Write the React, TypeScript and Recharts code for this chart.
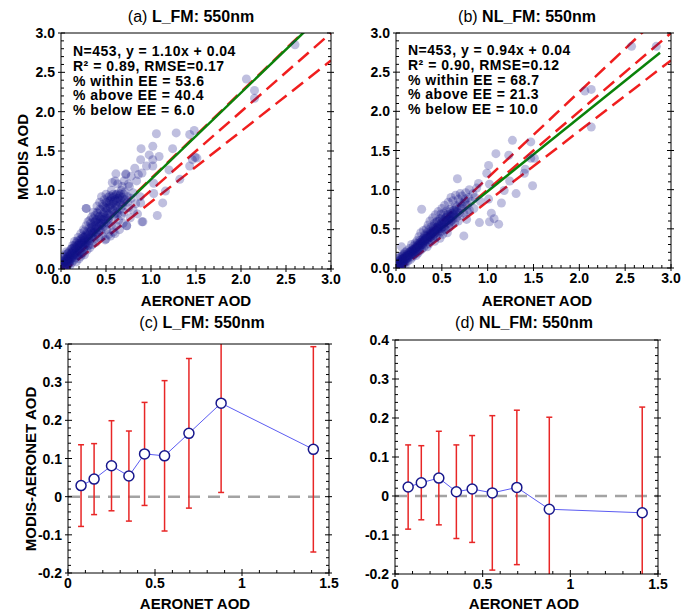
import React, { useId } from "react";
import { ComposedChart, Scatter, Line, XAxis, YAxis, ReferenceLine, ErrorBar } from "recharts";

const FONT = '"Liberation Sans", Arial, Helvetica, sans-serif';

// (a) L_FM collocations: [AERONET AOD, MODIS AOD]
const POINTS_L_FM: [number, number][] = [
  [0.02, 0.03], [0.03, 0.08], [0.04, 0.05], [0.05, 0.12], [0.05, 0.02], [0.06, 0.09], [0.07, 0.15], [0.07, 0.04],
  [0.08, 0.11], [0.08, 0.2], [0.09, 0.07], [0.09, 0.14], [0.1, 0.1], [0.1, 0.18], [0.03, 0.14], [0.04, 0.18],
  [0.06, 0.22], [0.02, 0.1], [0.1, 0.04], [0.11, 0.25], [0.01, 0.05], [0.02, 0.07], [0.03, 0.11], [0.04, 0.02],
  [0.04, 0.1], [0.05, 0.07], [0.05, 0.16], [0.06, 0.05], [0.06, 0.12], [0.07, 0.09], [0.07, 0.19], [0.08, 0.06],
  [0.08, 0.14], [0.09, 0.1], [0.09, 0.22], [0.1, 0.13], [0.05, 0.09], [0.07, 0.12], [0.09, 0.16],
  [0.11, 0.13], [0.12, 0.08], [0.12, 0.2], [0.13, 0.16], [0.13, 0.3], [0.14, 0.11], [0.14, 0.24], [0.15, 0.18],
  [0.15, 0.35], [0.16, 0.14], [0.16, 0.27], [0.17, 0.21], [0.17, 0.09], [0.18, 0.3], [0.18, 0.17], [0.19, 0.24],
  [0.19, 0.4], [0.2, 0.13], [0.2, 0.28], [0.2, 0.2], [0.11, 0.17], [0.12, 0.26], [0.12, 0.14], [0.13, 0.22],
  [0.14, 0.18], [0.15, 0.28], [0.16, 0.2], [0.17, 0.33], [0.18, 0.25], [0.19, 0.17], [0.2, 0.36],
  [0.13, 0.26], [0.15, 0.3], [0.18, 0.36], [0.2, 0.32], [0.11, 0.2], [0.13, 0.19], [0.15, 0.23], [0.17, 0.26],
  [0.19, 0.3],
  [0.21, 0.33], [0.21, 0.22], [0.22, 0.16], [0.22, 0.45], [0.23, 0.27], [0.23, 0.38], [0.24, 0.2], [0.24, 0.31],
  [0.25, 0.5], [0.25, 0.25], [0.26, 0.36], [0.26, 0.18], [0.27, 0.42], [0.27, 0.29], [0.28, 0.55], [0.28, 0.77],
  [0.28, 0.33], [0.29, 0.24], [0.29, 0.47], [0.3, 0.38], [0.3, 0.6], [0.3, 0.3], [0.21, 0.27], [0.22, 0.31],
  [0.23, 0.2], [0.24, 0.42], [0.25, 0.33], [0.26, 0.28], [0.27, 0.37], [0.29, 0.35],
  [0.22, 0.38], [0.24, 0.36], [0.26, 0.48], [0.28, 0.44], [0.21, 0.3], [0.23, 0.33], [0.25, 0.4], [0.27, 0.34],
  [0.29, 0.41], [0.3, 0.45], [0.26, 0.4],
  [0.31, 0.44], [0.31, 0.52], [0.32, 0.27], [0.32, 0.36], [0.33, 0.58], [0.33, 0.48], [0.34, 0.4], [0.34, 0.66],
  [0.35, 0.31], [0.35, 0.53], [0.36, 0.45], [0.36, 0.72], [0.37, 0.6], [0.37, 0.38], [0.38, 0.5], [0.38, 0.68],
  [0.39, 0.34], [0.39, 0.56], [0.4, 0.63], [0.4, 0.45], [0.4, 0.8], [0.31, 0.3], [0.33, 0.42], [0.35, 0.46],
  [0.37, 0.52], [0.39, 0.47], [0.32, 0.62], [0.34, 0.55], [0.36, 0.64], [0.38, 0.6], [0.31, 0.38], [0.33, 0.52],
  [0.35, 0.42], [0.37, 0.47], [0.39, 0.62], [0.34, 0.5], [0.38, 0.55],
  [0.41, 0.52], [0.41, 0.71], [0.42, 0.4], [0.42, 0.6], [0.43, 0.85], [0.43, 0.67], [0.44, 0.48], [0.44, 0.75],
  [0.45, 0.56], [0.45, 0.92], [0.46, 0.63], [0.46, 0.42], [0.47, 0.8], [0.47, 0.7], [0.48, 0.54], [0.48, 0.88],
  [0.49, 0.66], [0.49, 0.37], [0.5, 0.77], [0.5, 0.6], [0.5, 0.95], [0.4, 0.72], [0.42, 0.66], [0.43, 0.76],
  [0.44, 0.58], [0.46, 0.82], [0.47, 0.62], [0.48, 0.72], [0.5, 0.85], [0.46, 0.52], [0.41, 0.58], [0.43, 0.55],
  [0.45, 0.66], [0.47, 0.58], [0.49, 0.78], [0.42, 0.5], [0.44, 0.64], [0.48, 0.64],
  [0.51, 0.5], [0.51, 0.84], [0.52, 0.7], [0.52, 0.91], [0.53, 0.62], [0.53, 0.44], [0.54, 0.8], [0.54, 0.93],
  [0.55, 0.68], [0.55, 0.88], [0.56, 0.55], [0.56, 1.0], [0.57, 0.76], [0.57, 0.9], [0.58, 0.84], [0.58, 0.47],
  [0.59, 0.92], [0.59, 0.66], [0.6, 0.78], [0.6, 0.88], [0.6, 1.12], [0.55, 0.42], [0.6, 0.45], [0.5, 0.38],
  [0.51, 0.68], [0.52, 0.78], [0.53, 0.86], [0.55, 0.78], [0.56, 0.92], [0.58, 0.74], [0.59, 0.86], [0.52, 0.58],
  [0.51, 0.74], [0.53, 0.7], [0.54, 0.86], [0.56, 0.82], [0.58, 0.95], [0.6, 0.7], [0.52, 0.64],
  [0.61, 0.55], [0.61, 0.94], [0.62, 0.86], [0.62, 0.72], [0.63, 0.9], [0.63, 1.08], [0.64, 0.62], [0.64, 0.82],
  [0.65, 0.93], [0.65, 0.5], [0.66, 0.76], [0.66, 0.88], [0.67, 1.0], [0.67, 0.68], [0.68, 0.91], [0.68, 1.05],
  [0.69, 0.58], [0.69, 0.84], [0.7, 0.95], [0.7, 1.12], [0.7, 0.72], [0.61, 0.8], [0.62, 0.95], [0.63, 0.7],
  [0.64, 0.9], [0.66, 0.95], [0.68, 0.8], [0.7, 0.88], [0.62, 0.8], [0.64, 0.96], [0.66, 0.84],
  [0.71, 0.98], [0.72, 0.88], [0.72, 1.2], [0.73, 0.55], [0.74, 0.92], [0.74, 0.85], [0.75, 0.78], [0.75, 1.08],
  [0.76, 1.05], [0.77, 0.65], [0.78, 0.9], [0.78, 1.18], [0.8, 0.75], [0.8, 0.97], [0.82, 1.28], [0.83, 0.83],
  [0.84, 1.12], [0.85, 0.7], [0.86, 1.2], [0.88, 0.92], [0.9, 0.6], [0.9, 1.22], [0.61, 1.21], [0.72, 1.21],
  [0.57, 1.1], [0.28, 0.77],
  [0.89, 1.53], [0.98, 1.45], [0.95, 1.31], [1.02, 1.31], [1.02, 1.56], [1.06, 1.72], [1.09, 1.43], [0.885, 1.39],
  [1.02, 1.39], [1.2, 1.26], [1.24, 1.53], [1.28, 1.73], [1.43, 1.71], [1.48, 1.76], [1.46, 1.39], [1.49, 1.42],
  [1.51, 1.41], [1.43, 1.31], [1.03, 1.09], [1.32, 1.14], [1.03, 0.96], [1.16, 0.99], [1.13, 0.84], [0.885, 0.84],
  [1.07, 0.68], [0.91, 0.6], [0.73, 0.55],
  [2.06, 2.415], [2.15, 2.27], [2.15, 2.17], [2.6, 2.85],
];

// (b) NL_FM collocations
const POINTS_NL_FM: [number, number][] = [
  [0.02, 0.04], [0.03, 0.09], [0.03, 0.02], [0.04, 0.06], [0.05, 0.11], [0.05, 0.03], [0.06, 0.08], [0.06, 0.15],
  [0.07, 0.05], [0.07, 0.12], [0.08, 0.09], [0.08, 0.18], [0.09, 0.06], [0.09, 0.13], [0.1, 0.1], [0.1, 0.2],
  [0.04, 0.14], [0.02, 0.12], [0.06, 0.27], [0.1, 0.03], [0.01, 0.03], [0.02, 0.07], [0.03, 0.05], [0.04, 0.09],
  [0.04, 0.03], [0.05, 0.07], [0.06, 0.04], [0.06, 0.11], [0.07, 0.08], [0.07, 0.16], [0.08, 0.06], [0.08, 0.12],
  [0.09, 0.1], [0.09, 0.17], [0.1, 0.14], [0.05, 0.06], [0.07, 0.1], [0.09, 0.12],
  [0.11, 0.15], [0.11, 0.08], [0.12, 0.12], [0.12, 0.22], [0.13, 0.17], [0.13, 0.09], [0.14, 0.2], [0.14, 0.13],
  [0.15, 0.25], [0.15, 0.16], [0.16, 0.11], [0.16, 0.21], [0.17, 0.18], [0.17, 0.3], [0.18, 0.14], [0.18, 0.23],
  [0.19, 0.2], [0.19, 0.28], [0.2, 0.17], [0.2, 0.24], [0.11, 0.12], [0.12, 0.18], [0.13, 0.14], [0.14, 0.16],
  [0.15, 0.2], [0.16, 0.17], [0.17, 0.22], [0.18, 0.19], [0.19, 0.24], [0.2, 0.21], [0.11, 0.13], [0.13, 0.16],
  [0.15, 0.18], [0.17, 0.2], [0.19, 0.22],
  [0.21, 0.21], [0.21, 0.32], [0.22, 0.16], [0.22, 0.26], [0.23, 0.23], [0.23, 0.35], [0.24, 0.19], [0.24, 0.29],
  [0.25, 0.26], [0.25, 0.4], [0.26, 0.22], [0.26, 0.32], [0.27, 0.28], [0.27, 0.45], [0.28, 0.75], [0.28, 0.24],
  [0.28, 0.34], [0.29, 0.3], [0.3, 0.38], [0.3, 0.26], [0.3, 0.48], [0.21, 0.26], [0.22, 0.22], [0.23, 0.28],
  [0.24, 0.25], [0.25, 0.3], [0.26, 0.27], [0.27, 0.33], [0.29, 0.31], [0.23, 0.31], [0.26, 0.35], [0.29, 0.37],
  [0.21, 0.24], [0.23, 0.26], [0.25, 0.28], [0.27, 0.3], [0.29, 0.33], [0.3, 0.34],
  [0.31, 0.33], [0.31, 0.42], [0.32, 0.29], [0.32, 0.37], [0.33, 0.5], [0.33, 0.34], [0.34, 0.41], [0.34, 0.27],
  [0.35, 0.36], [0.35, 0.55], [0.36, 0.44], [0.36, 0.31], [0.37, 0.39], [0.37, 0.6], [0.38, 0.47], [0.38, 0.35],
  [0.39, 0.42], [0.39, 0.53], [0.4, 0.38], [0.4, 0.64], [0.4, 0.46], [0.31, 0.36], [0.33, 0.38], [0.35, 0.4],
  [0.37, 0.43], [0.39, 0.45], [0.32, 0.41], [0.34, 0.45], [0.36, 0.49], [0.38, 0.43], [0.31, 0.35], [0.33, 0.36],
  [0.35, 0.38], [0.37, 0.41], [0.39, 0.44], [0.34, 0.38], [0.38, 0.4],
  [0.41, 0.5], [0.41, 0.41], [0.42, 0.57], [0.42, 0.34], [0.43, 0.45], [0.43, 0.68], [0.44, 0.52], [0.44, 0.4],
  [0.45, 0.48], [0.45, 0.6], [0.46, 0.55], [0.46, 0.72], [0.47, 0.44], [0.47, 0.5], [0.48, 0.63], [0.48, 0.38],
  [0.49, 0.54], [0.49, 0.69], [0.5, 0.47], [0.5, 0.58], [0.5, 0.76], [0.42, 0.48], [0.45, 0.52], [0.41, 0.53],
  [0.43, 0.5], [0.44, 0.58], [0.46, 0.5], [0.47, 0.6], [0.49, 0.5], [0.5, 0.64], [0.41, 0.46], [0.43, 0.47],
  [0.45, 0.5], [0.47, 0.53], [0.49, 0.56], [0.42, 0.44], [0.46, 0.46], [0.5, 0.52],
  [0.51, 0.62], [0.51, 0.43], [0.52, 0.53], [0.52, 0.7], [0.53, 0.58], [0.53, 0.8], [0.54, 0.49], [0.54, 0.64],
  [0.55, 0.56], [0.55, 0.73], [0.56, 0.61], [0.56, 0.45], [0.57, 0.68], [0.57, 0.84], [0.58, 0.57], [0.58, 0.52],
  [0.59, 0.72], [0.59, 0.63], [0.6, 0.66], [0.6, 0.55], [0.6, 0.9], [0.52, 0.6], [0.53, 0.52], [0.55, 0.65],
  [0.56, 0.68], [0.58, 0.62], [0.59, 0.75], [0.6, 0.6], [0.51, 0.55], [0.53, 0.6], [0.55, 0.6], [0.57, 0.62],
  [0.59, 0.66],
  [0.61, 0.7], [0.62, 0.62], [0.62, 0.86], [0.63, 0.74], [0.64, 0.58], [0.64, 0.68], [0.65, 0.8], [0.65, 0.93],
  [0.66, 0.64], [0.67, 0.72], [0.67, 1.14], [0.68, 0.88], [0.68, 0.6], [0.69, 0.77], [0.7, 0.95], [0.7, 0.67],
  [0.7, 0.84], [0.61, 0.64], [0.63, 0.68], [0.65, 0.72], [0.66, 0.78], [0.69, 0.7], [0.62, 0.7], [0.64, 0.74],
  [0.71, 0.76], [0.72, 0.79], [0.72, 0.92], [0.73, 0.82], [0.74, 0.41], [0.74, 0.7], [0.75, 0.85], [0.76, 0.96],
  [0.76, 0.88], [0.77, 0.62], [0.78, 0.8], [0.78, 0.72], [0.79, 0.9], [0.8, 0.74], [0.8, 1.0], [0.82, 0.85],
  [0.84, 0.95], [0.85, 0.76], [0.86, 0.9], [0.88, 1.02], [0.9, 1.08], [0.91, 0.58], [0.92, 0.85],
  [1.01, 0.88], [1.02, 1.07], [1.04, 0.7], [1.02, 0.59], [1.07, 0.63], [1.12, 0.56], [1.15, 0.83], [1.18, 0.99],
  [1.31, 0.95], [1.49, 1.05], [1.24, 1.11], [0.99, 1.21], [1.4, 1.21], [1.41, 1.26], [1.01, 1.31], [1.09, 1.46],
  [1.23, 1.44], [1.47, 1.4], [1.51, 1.4], [1.27, 1.63], [1.47, 1.61],
  [2.06, 2.26], [2.13, 2.28], [2.13, 1.8], [2.57, 2.83], [2.84, 2.83],
];

const FIT_L_FM = { slope: 1.1, intercept: 0.04 };
const FIT_NL_FM = { slope: 0.94, intercept: 0.04 };
const FIT_X_RANGE: [number, number] = [0.02, 2.88];
// expected error envelope: +/-(0.05 + 0.10 * AOD)
const EE_ABS = 0.05;
const EE_REL = 0.1;

const STATS_L_FM = [
  "N=453, y = 1.10x + 0.04",
  "R\u00b2 = 0.89, RMSE=0.17",
  "% within EE = 53.6",
  "% above EE = 40.4",
  "% below EE = 6.0",
];
const STATS_NL_FM = [
  "N=453, y = 0.94x + 0.04",
  "R\u00b2 = 0.90, RMSE=0.12",
  "% within EE = 68.7",
  "% above EE = 21.3",
  "% below EE = 10.0",
];

// bias vs AOD bins
const BIN_AOD = [0.075, 0.15, 0.25, 0.35, 0.44, 0.555, 0.695, 0.88, 1.41];
const BIAS_L_FM = [0.029, 0.046, 0.081, 0.054, 0.112, 0.107, 0.166, 0.245, 0.124];
const SD_L_FM = [0.107, 0.093, 0.118, 0.118, 0.135, 0.197, 0.196, 0.234, 0.269];
const BIAS_NL_FM = [0.023, 0.034, 0.046, 0.011, 0.018, 0.008, 0.022, -0.034, -0.043];
const SD_NL_FM = [0.108, 0.095, 0.12, 0.12, 0.137, 0.198, 0.198, 0.236, 0.271];

const SCATTER_MAJOR = [0, 0.5, 1, 1.5, 2, 2.5, 3];
const BIAS_X_MAJOR = [0, 0.5, 1, 1.5];
const BIAS_Y_MAJOR = [-0.2, -0.1, 0, 0.1, 0.2, 0.3, 0.4];

const steps = (lo: number, hi: number, step: number) => {
  const n = Math.round((hi - lo) / step);
  const out: number[] = [];
  for (let i = 0; i <= n; i++) out.push(+(lo + i * step).toFixed(4));
  return out;
};

const lineData = (slope: number, intercept: number, x0: number, x1: number) => [
  { x: x0, y: slope * x0 + intercept },
  { x: x1, y: slope * x1 + intercept },
];

type Side = "bottom" | "top" | "left" | "right";

function makeTick(side: Side, majors: number[], fmt?: (v: number) => string) {
  return (p: any) => {
    const v = Number(p.payload.value);
    const { x, y } = p;
    const major = majors.some((m) => Math.abs(m - v) < 1e-6);
    const o = major ? 3 : 0;
    const i = major ? 4 : 3;
    let seg;
    if (side === "bottom") seg = { x1: x, x2: x, y1: y + o, y2: y - i };
    else if (side === "top") seg = { x1: x, x2: x, y1: y - o, y2: y + i };
    else if (side === "left") seg = { x1: x - o, x2: x + i, y1: y, y2: y };
    else seg = { x1: x + o, x2: x - i, y1: y, y2: y };
    return (
      <g>
        <line {...seg} stroke="#000" strokeWidth={1} />
        {major && fmt && side === "bottom" && (
          <text x={x} y={y + 15} textAnchor="middle" fontSize={14} fontWeight="bold" fontFamily={FONT} fill="#000">
            {fmt(v)}
          </text>
        )}
        {major && fmt && side === "left" && (
          <text x={x - 6} y={y + 5} textAnchor="end" fontSize={14} fontWeight="bold" fontFamily={FONT} fill="#000">
            {fmt(v)}
          </text>
        )}
      </g>
    );
  };
}

type Box = { left: number; top: number; right: number; bottom: number };

// space around the plot box inside each chart svg (axes take 1px each)
const PAD = { left: 40, top: 10, right: 12, bottom: 24 };

function Panel({
  box, xDomain, yDomain, xMajor, yMajor, xStep, yStep, fmtX, fmtY, clipId, children,
}: {
  box: Box; xDomain: [number, number]; yDomain: [number, number];
  xMajor: number[]; yMajor: number[]; xStep: number; yStep: number;
  fmtX: (v: number) => string; fmtY: (v: number) => string; clipId?: string; children: React.ReactNode;
}) {
  const pw = box.right - box.left;
  const ph = box.bottom - box.top;
  const w = pw + PAD.left + PAD.right;
  const h = ph + PAD.top + PAD.bottom;
  const xt = steps(xDomain[0], xDomain[1], xStep);
  const yt = steps(yDomain[0], yDomain[1], yStep);
  const axisLine = { stroke: "#000", strokeWidth: 1 };
  const margin = { left: PAD.left - 1, top: PAD.top - 1, right: PAD.right - 1, bottom: PAD.bottom - 1 };
  return (
    <div style={{ position: "absolute", left: box.left - PAD.left, top: box.top - PAD.top }}>
      <ComposedChart width={w} height={h} margin={margin}>
        {clipId && (
          <defs>
            <clipPath id={clipId}>
              <rect x={PAD.left} y={PAD.top} width={pw} height={ph} />
            </clipPath>
          </defs>
        )}
        <XAxis type="number" dataKey="x" domain={xDomain} ticks={xt} interval={0} height={1} tickSize={0} tickMargin={0}
          axisLine={axisLine} tickLine={false} tick={makeTick("bottom", xMajor, fmtX)} allowDataOverflow />
        <XAxis xAxisId="top" orientation="top" type="number" domain={xDomain} ticks={xt} interval={0} height={1}
          tickSize={0} tickMargin={0} axisLine={axisLine} tickLine={false} tick={makeTick("top", xMajor)} allowDataOverflow />
        <YAxis type="number" dataKey="y" domain={yDomain} ticks={yt} interval={0} width={1} tickSize={0} tickMargin={0}
          axisLine={axisLine} tickLine={false} tick={makeTick("left", yMajor, fmtY)} allowDataOverflow />
        <YAxis yAxisId="right" orientation="right" type="number" domain={yDomain} ticks={yt} interval={0} width={1}
          tickSize={0} tickMargin={0} axisLine={axisLine} tickLine={false} tick={makeTick("right", yMajor)} allowDataOverflow />
        {children}
      </ComposedChart>
    </div>
  );
}

const dot = (p: any) => (
  <circle cx={p.cx} cy={p.cy} r={4.5} fill="#12128a" fillOpacity={0.27} />
);

function ScatterPanel({ box, points, fit }: { box: Box; points: [number, number][]; fit: { slope: number; intercept: number } }) {
  const red = { stroke: "#f01e1e", strokeWidth: 2.5, strokeDasharray: "14 7" };
  return (
    <Panel box={box} xDomain={[0, 3]} yDomain={[0, 3]} xMajor={SCATTER_MAJOR} yMajor={SCATTER_MAJOR}
      xStep={0.1} yStep={0.1} fmtX={(v) => v.toFixed(1)} fmtY={(v) => v.toFixed(1)}>
      <Scatter data={points.map(([x, y]) => ({ x, y }))} dataKey="y" shape={dot} isAnimationActive={false} />
      <Line data={lineData(1, 0, 0, 3)} dataKey="y" dot={false} {...red} isAnimationActive={false} />
      <Line data={lineData(1 + EE_REL, EE_ABS, 0, 3)} dataKey="y" dot={false} {...red} isAnimationActive={false} />
      <Line data={lineData(1 - EE_REL, -EE_ABS, 0, 3)} dataKey="y" dot={false} {...red} isAnimationActive={false} />
      <Line data={lineData(fit.slope, fit.intercept, FIT_X_RANGE[0], FIT_X_RANGE[1])} dataKey="y" dot={false}
        stroke="#0a820a" strokeWidth={2.5} isAnimationActive={false} />
    </Panel>
  );
}

function BiasPanel({ box, bias, sd }: { box: Box; bias: number[]; sd: number[] }) {
  const clipId = "clip" + useId().replace(/[^a-zA-Z0-9]/g, "");
  const rows = BIN_AOD.map((x, i) => ({ x, y: bias[i], sd: sd[i] }));
  return (
    <Panel box={box} xDomain={[0, 1.5]} yDomain={[-0.2, 0.4]} xMajor={BIAS_X_MAJOR} yMajor={BIAS_Y_MAJOR}
      xStep={0.1} yStep={0.02} fmtX={(v) => String(v)} fmtY={(v) => String(v)} clipId={clipId}>
      <ReferenceLine y={0} stroke="#a3a3a3" strokeWidth={2.5} strokeDasharray="12 8" />
      <Line data={rows} dataKey="y" stroke="#5b5bf2" strokeWidth={1} isAnimationActive={false}
        dot={{ r: 5, fill: "#fff", stroke: "#17178c", strokeWidth: 1.5 }}>
        <ErrorBar dataKey="sd" direction="y" width={3} stroke="#e82626" strokeWidth={1.5} clipPath={`url(#${clipId})`} />
      </Line>
    </Panel>
  );
}

function Label({ x, y, size = 15, children, rotate = false }: { x: number; y: number; size?: number; children: React.ReactNode; rotate?: boolean }) {
  return (
    <div style={{
      position: "absolute", left: x, top: y, transform: `translate(-50%, -50%)${rotate ? " rotate(-90deg)" : ""}`,
      whiteSpace: "nowrap", fontFamily: FONT, fontSize: size, fontWeight: "bold", lineHeight: 1, color: "#000",
    }}>
      {children}
    </div>
  );
}

function Title({ x, y, tag, name }: { x: number; y: number; tag: string; name: string }) {
  return (
    <Label x={x} y={y} size={16}>
      <span style={{ fontWeight: "normal" }}>{tag} </span>{name}
    </Label>
  );
}

function Stats({ x, y, lines }: { x: number; y: number; lines: string[] }) {
  return (
    <div style={{
      position: "absolute", left: x, top: y, fontFamily: FONT, fontSize: 14, fontWeight: "bold",
      lineHeight: "14.8px", letterSpacing: 0.5, whiteSpace: "nowrap",
    }}>
      {lines.map((l) => <div key={l}>{l}</div>)}
    </div>
  );
}

export default function App() {
  return (
    <div style={{ position: "absolute", left: 0, top: 0, width: 689, height: 615, background: "#fff", overflow: "hidden" }}>
      <ScatterPanel box={{ left: 61, top: 33, right: 331, bottom: 269 }} points={POINTS_L_FM} fit={FIT_L_FM} />
      <ScatterPanel box={{ left: 396, top: 33, right: 671, bottom: 268 }} points={POINTS_NL_FM} fit={FIT_NL_FM} />
      <BiasPanel box={{ left: 68, top: 344, right: 329, bottom: 573 }} bias={BIAS_L_FM} sd={SD_L_FM} />
      <BiasPanel box={{ left: 395, top: 340, right: 658, bottom: 574 }} bias={BIAS_NL_FM} sd={SD_NL_FM} />

      <Stats x={73} y={44} lines={STATS_L_FM} />
      <Stats x={408} y={43} lines={STATS_NL_FM} />

      <Title x={191} y={17} tag="(a)" name="L_FM: 550nm" />
      <Title x={527} y={17} tag="(b)" name="NL_FM: 550nm" />
      <Title x={202} y={323} tag="(c)" name="L_FM: 550nm" />
      <Title x={524} y={323} tag="(d)" name="NL_FM: 550nm" />

      <Label x={196} y={300}>AERONET AOD</Label>
      <Label x={537} y={300}>AERONET AOD</Label>
      <Label x={195} y={603}>AERONET AOD</Label>
      <Label x={524} y={603}>AERONET AOD</Label>
      <Label x={22} y={157} rotate>MODIS AOD</Label>
      <Label x={30} y={469} rotate>MODIS-AERONET AOD</Label>
    </div>
  );
}
